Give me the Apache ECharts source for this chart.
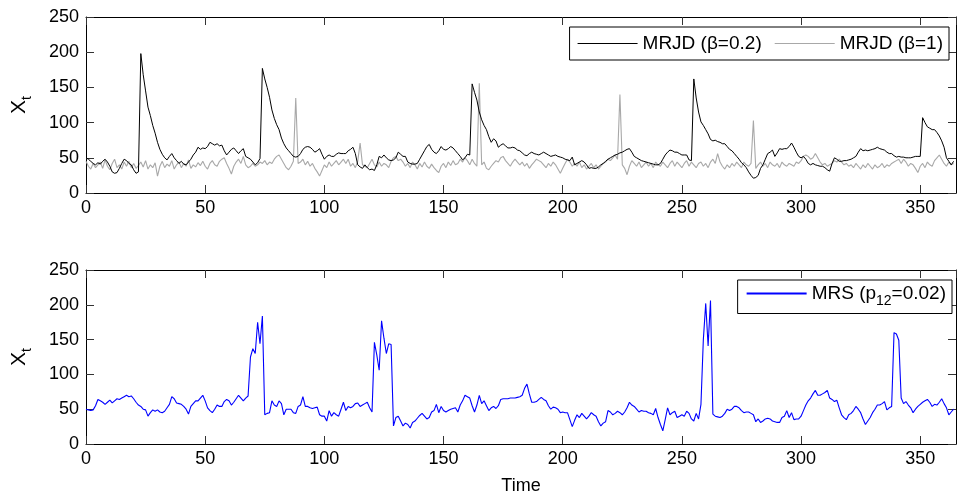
<!DOCTYPE html>
<html>
<head>
<meta charset="utf-8">
<script src="https://cdn.jsdelivr.net/npm/echarts@6/dist/echarts.min.js"></script>
<style>html,body{margin:0;padding:0;background:#fff}#c{width:957px;height:496px}</style>
</head>
<body>
<div id="c"></div>
<script>
// Daily values, t = 0 .. 364
const mrjdBeta02 = [
50,48,45,42,40,43,41,45,48,44,
38,30,28,29,35,42,48,46,42,40,
33,28,30,198,168,145,122,110,96,85,
72,62,55,50,47,52,56,50,46,42,
45,41,40,44,48,54,58,65,62,64,
63,66,72,70,68,70,67,68,60,54,
58,62,64,60,56,60,63,52,50,48,
44,40,43,49,177,162,150,136,118,106,
97,90,78,70,64,60,56,52,51,52,
56,62,65,66,65,62,58,60,63,55,
48,52,54,52,52,55,57,56,56,56,
60,62,65,56,40,37,35,40,36,33,
34,32,40,52,50,54,50,47,46,47,
50,58,55,52,52,44,42,41,41,42,
48,54,60,66,69,62,58,56,60,66,
62,61,63,66,64,60,56,52,47,50,
55,54,155,143,132,115,104,96,90,80,
72,77,74,65,68,70,67,64,64,65,
64,61,60,57,54,53,56,58,56,55,
54,56,58,56,54,52,53,54,52,51,
50,48,47,46,51,40,42,44,46,44,
40,35,36,35,35,37,40,42,45,48,
50,52,54,55,57,58,60,62,63,58,
52,50,48,46,45,44,43,42,41,40,
40,42,48,54,58,61,60,58,58,56,
54,54,54,47,46,162,135,115,101,96,
90,84,76,74,75,73,72,70,70,66,
62,60,56,52,48,43,40,36,30,25,
21,22,25,35,40,48,56,58,61,52,
57,63,62,63,63,66,71,65,58,52,
50,52,48,42,40,42,40,39,38,38,
36,33,31,42,50,48,45,45,46,46,
47,48,50,52,58,63,60,61,60,61,
62,63,65,63,62,61,58,56,56,53,
51,52,51,51,50,50,50,51,52,52,
52,107,100,94,92,90,90,86,81,74,
65,50,45,40,45
];
const mrjdBeta1 = [
45,38,34,42,36,40,44,35,47,38,
33,42,48,36,40,34,44,38,45,36,
42,35,39,44,37,46,34,40,36,43,
24,38,45,36,41,38,46,34,40,44,
36,42,38,47,35,40,37,43,39,45,
38,34,42,46,40,38,45,48,50,42,
35,27,38,44,48,42,52,40,36,38,
42,38,40,44,42,46,40,44,42,48,
52,54,48,42,36,33,38,45,135,42,
44,48,40,45,38,42,35,30,24,32,
40,36,44,38,42,46,40,44,48,42,
48,38,42,36,45,71,40,38,36,42,
48,40,37,44,38,42,40,36,45,50,
52,46,48,44,38,42,36,44,40,34,
42,37,44,38,35,41,36,32,29,38,
42,36,44,39,46,40,42,48,44,50,
46,40,48,42,38,156,40,44,35,33,
38,42,46,44,50,52,46,42,38,44,
48,44,40,44,38,42,35,40,44,48,
46,44,40,36,42,38,44,40,34,28,
35,42,48,44,38,42,38,44,36,40,
34,38,42,36,40,34,38,42,44,48,
46,50,54,48,140,40,35,26,38,46,
42,38,44,36,40,44,38,42,36,44,
40,38,44,40,36,42,46,38,44,40,
36,42,46,38,44,40,36,42,44,38,
42,36,44,48,42,56,44,38,34,40,
36,42,38,44,40,36,44,40,38,42,
103,35,40,44,38,42,36,44,40,38,
42,36,44,40,38,42,40,38,44,42,
46,52,54,52,48,50,56,50,44,40,
42,38,40,42,46,44,48,44,40,42,
38,40,36,42,38,34,40,36,42,38,
34,40,36,38,42,36,40,38,42,44,
46,48,42,48,44,38,42,40,35,29,
38,42,36,44,40,38,46,50,54,48,
42,38,44,40,42
];
const mrs = [
50,49,48,49,55,64,62,60,57,60,
63,59,62,65,64,66,68,70,68,69,
65,60,56,54,50,49,40,45,49,47,
49,46,45,47,52,57,68,65,59,58,
57,54,50,43,54,58,62,62,66,70,
62,52,48,45,50,56,54,54,61,64,
62,56,60,65,70,66,62,66,69,125,
137,130,175,144,184,42,44,45,62,56,
54,62,58,42,50,50,50,45,44,54,
56,68,54,54,52,51,52,53,42,40,
40,33,48,40,45,42,40,50,60,48,
54,52,54,58,59,54,56,58,60,52,
46,146,128,106,177,152,130,144,143,26,
38,40,33,26,30,28,23,31,33,37,
41,44,40,36,38,46,48,57,45,54,
48,46,48,50,51,52,46,56,62,70,
68,66,55,46,56,70,58,62,55,48,
52,54,51,55,64,65,65,65,66,66,
66,67,68,70,80,86,72,60,60,61,
64,67,64,62,55,50,53,52,50,45,
46,45,45,35,25,34,42,38,44,40,
36,40,45,42,40,32,26,30,32,48,
46,42,44,47,45,42,46,52,60,56,
54,50,46,48,47,47,45,44,42,51,
38,28,19,35,52,42,45,47,38,40,
42,40,47,44,36,33,44,36,57,150,
202,141,206,43,40,39,38,40,44,50,
48,50,54,54,52,48,45,46,46,44,
42,32,36,31,33,36,37,36,33,32,
31,31,38,40,48,38,45,35,36,36,
40,48,56,62,66,72,77,70,70,72,
74,77,66,64,61,63,52,42,38,35,
42,44,48,54,50,45,36,28,33,38,
45,50,56,56,58,61,49,52,54,160,
158,149,66,58,61,56,52,45,50,54,
57,60,62,64,60,54,57,56,60,65,
58,52,42,46,50
];
const xTicks = [0, 50, 100, 150, 200, 250, 300, 350];
const yTicks = [0, 50, 100, 150, 200, 250];
const names = ['MRJD (β=0.2)', 'MRJD (β=1)', 'MRS (p12=0.02)'];
const colors = ['#000000', '#a8a8a8', '#0000ff'];

const toPairs = arr => arr.map((v, i) => [i, v]);
const FONT = '"Liberation Sans", Arial, Helvetica, sans-serif';

const chart = echarts.init(document.getElementById('c'), null, {renderer: 'canvas'});

function xAx(grid, bottom) {
  return {
    type: 'value', gridIndex: grid, position: bottom ? 'bottom' : 'top',
    min: xTicks[0], max: 365, interval: xTicks[1] - xTicks[0],
    axisLine: {show: true, onZero: false, lineStyle: {color: '#000', width: 1}},
    axisTick: {show: true, inside: true, length: 8, lineStyle: {color: '#333'}},
    axisLabel: {show: bottom, showMaxLabel: false, color: '#000', fontSize: 18, fontFamily: FONT, margin: 6},
    splitLine: {show: false},
    name: (bottom && grid === 1) ? 'Time' : '',
    nameLocation: 'middle', nameGap: 33,
    nameTextStyle: {color: '#000', fontSize: 18, fontFamily: FONT}
  };
}
function yAx(grid, left) {
  return {
    type: 'value', gridIndex: grid, position: left ? 'left' : 'right',
    min: yTicks[0], max: yTicks[yTicks.length - 1], interval: yTicks[1] - yTicks[0],
    axisLine: {show: true, onZero: false, lineStyle: {color: '#000', width: 1}},
    axisTick: {show: true, inside: true, length: 8, lineStyle: {color: '#333'}},
    axisLabel: {show: left, color: '#000', fontSize: 18, fontFamily: FONT, margin: 7},
    splitLine: {show: false},
    name: left ? '{x|X}{t|t}' : '',
    nameLocation: 'middle', nameGap: 52, nameRotate: 90,
    nameTextStyle: {
      color: '#000', fontFamily: FONT,
      rich: {
        x: {fontSize: 21, fontFamily: FONT, color: '#000', lineHeight: 30},
        t: {fontSize: 14, fontFamily: FONT, color: '#000', verticalAlign: 'bottom', lineHeight: 14}
      }
    }
  };
}
const legendItem = k => ({name: names[k], itemStyle: {color: colors[k], borderWidth: 0}});

const option = {
  backgroundColor: '#fff',
  animation: false,
  grid: [
    {left: 86, top: 17, right: 1, height: 176},
    {left: 86, top: 270, right: 1, height: 176}
  ],
  xAxis: [xAx(0, true), xAx(0, false), xAx(1, true), xAx(1, false)],
  yAxis: [yAx(0, true), yAx(0, false), yAx(1, true), yAx(1, false)],
  legend: [
    {
      data: [legendItem(0), legendItem(1)], right: 8, top: 27, orient: 'horizontal',
      icon: 'rect', itemWidth: 60, itemHeight: 1, itemGap: 13,
      borderColor: '#000', borderWidth: 1, borderRadius: 0, backgroundColor: '#fff',
      padding: [7, 6, 7, 8],
      textStyle: {color: '#000', fontSize: 19, fontFamily: FONT},
      z: 10
    },
    {
      data: [legendItem(2)],
      right: 5, top: 280, orient: 'horizontal',
      icon: 'rect', itemWidth: 60, itemHeight: 2,
      borderColor: '#000', borderWidth: 1, borderRadius: 0, backgroundColor: '#fff',
      padding: [4, 6, 5, 9],
      formatter: () => '{a|MRS (p}{s|12}{a|=0.02)}',
      textStyle: {
        color: '#000', fontSize: 19, fontFamily: FONT,
        rich: {
          a: {fontSize: 19, fontFamily: FONT, color: '#000', lineHeight: 30},
          s: {fontSize: 14, fontFamily: FONT, color: '#000', verticalAlign: 'bottom', lineHeight: 14}
        }
      },
      z: 10
    }
  ],
  series: [
    {
      name: names[1], type: 'line', xAxisIndex: 0, yAxisIndex: 0,
      data: toPairs(mrjdBeta1), symbol: 'none', silent: true,
      lineStyle: {color: colors[1], width: 1.1}, itemStyle: {color: colors[1]}, z: 2
    },
    {
      name: names[0], type: 'line', xAxisIndex: 0, yAxisIndex: 0,
      data: toPairs(mrjdBeta02), symbol: 'none', silent: true,
      lineStyle: {color: colors[0], width: 1}, itemStyle: {color: colors[0]}, z: 3
    },
    {
      name: names[2], type: 'line', xAxisIndex: 2, yAxisIndex: 2,
      data: toPairs(mrs), symbol: 'none', silent: true,
      lineStyle: {color: colors[2], width: 1.1}, itemStyle: {color: colors[2]}, z: 3
    }
  ]
};
chart.setOption(option);
</script>
</body>
</html>
